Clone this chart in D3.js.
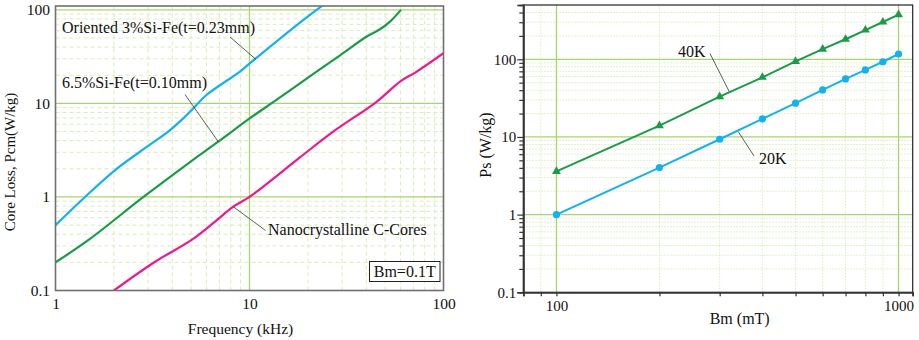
<!DOCTYPE html>
<html>
<head>
<meta charset="utf-8">
<script src="https://cdn.jsdelivr.net/npm/d3@7"></script>
<style>
  html, body { margin: 0; padding: 0; background: #fff; }
  svg { display: block; }
  text { font-family: "Liberation Serif", "Times New Roman", serif; fill: #111; }
</style>
</head>
<body>
<svg id="chart" width="919" height="340"></svg>
<script>
// ---- Core loss vs frequency at Bm = 0.1 T ----
const orientedFreq = [1, 1.42, 2.03, 2.89, 3.81, 4.47, 5.24, 6.0, 8.93, 10.06, 18.2, 24];
const orientedLoss = [0.5, 1.0, 1.94, 3.32, 4.99, 6.66, 9.25, 12.3, 21.9, 26.9, 73, 113];

const siFe65Freq = [1, 1.48, 2.84, 4.84, 6.9, 10.06, 13.3, 19.7, 29.3, 40.2, 47, 53, 60.4];
const siFe65Loss = [0.2, 0.347, 1.0, 2.29, 3.9, 6.95, 10.4, 18.4, 32.7, 51.9, 62, 75, 100];

const nanoFreq = [2, 3.26, 5.03, 6.64, 8.25, 10, 18.2, 27, 45.2, 59.7, 72.8, 100];
const nanoLoss = [0.1, 0.203, 0.347, 0.545, 0.787, 1.0, 2.65, 4.99, 10.4, 17.1, 21.9, 34.4];

const freqTicks = [1, 10, 100];
const lossTicks = [0.1, 1, 10, 100];

// ---- Specific loss vs flux density at 20 K and 40 K ----
const bmValues = [100, 200, 300, 400, 500, 600, 700, 800, 900, 1000];
const ps40K = [3.6, 14.0, 33, 58.6, 94, 135, 181, 238, 302, 375];
const ps20K = [1.0, 4.03, 9.34, 17.1, 27.2, 40.3, 55.8, 73, 93, 117];

const bmTicks = [100, 1000];
const psTicks = [0.1, 1, 10, 100];

const svg = d3.select("#chart");

const BLUE = "#14b1ec", GREEN = "#1b9a48", PINK = "#ec1a8c";
const GRID_MAJOR = "#a9d571", GRID_MINOR = "#d9ecbd";

function minorValues(lo, hi) {
  const out = [];
  for (let p = Math.floor(Math.log10(lo)); p <= Math.ceil(Math.log10(hi)); p++) {
    for (let m = 2; m <= 9; m++) {
      const v = m * Math.pow(10, p);
      if (v > lo * 1.0001 && v < hi * 0.9999) out.push(v);
    }
  }
  return out;
}

/* ================= Left panel ================= */
const xL = d3.scaleLog().domain([1, 100]).range([55.5, 443.5]);
const yL = d3.scaleLog().domain([0.1, 110]).range([290.5, 6]);
const left = svg.append("g");

left.append("clipPath").attr("id", "clipL").append("rect")
  .attr("x", xL.range()[0]).attr("y", yL.range()[1])
  .attr("width", xL.range()[1] - xL.range()[0])
  .attr("height", yL.range()[0] - yL.range()[1]);

const gridL = left.append("g");
gridL.selectAll(".vmin").data(minorValues(1, 100)).join("line")
  .attr("x1", d => xL(d)).attr("x2", d => xL(d))
  .attr("y1", yL.range()[0]).attr("y2", yL.range()[1])
  .attr("stroke", GRID_MINOR).attr("stroke-width", 1).attr("stroke-dasharray", "4,3");
gridL.selectAll(".hmin").data(minorValues(0.1, 110)).join("line")
  .attr("y1", d => yL(d)).attr("y2", d => yL(d))
  .attr("x1", xL.range()[0]).attr("x2", xL.range()[1])
  .attr("stroke", GRID_MINOR).attr("stroke-width", 1).attr("stroke-dasharray", "4,3");
gridL.selectAll(".vmaj").data([10]).join("line")
  .attr("x1", d => xL(d)).attr("x2", d => xL(d))
  .attr("y1", yL.range()[0]).attr("y2", yL.range()[1])
  .attr("stroke", GRID_MAJOR).attr("stroke-width", 1.3);
gridL.selectAll(".hmaj").data([1, 10, 100]).join("line")
  .attr("y1", d => yL(d)).attr("y2", d => yL(d))
  .attr("x1", xL.range()[0]).attr("x2", xL.range()[1])
  .attr("stroke", GRID_MAJOR).attr("stroke-width", 1.3);

const lineL = d3.line().x(d => xL(d[0])).y(d => yL(d[1])).curve(d3.curveCatmullRom.alpha(0.5));
const seriesL = [
  { f: orientedFreq, p: orientedLoss, c: BLUE },
  { f: siFe65Freq, p: siFe65Loss, c: GREEN },
  { f: nanoFreq, p: nanoLoss, c: PINK }
];
left.append("g").attr("clip-path", "url(#clipL)")
  .selectAll("path").data(seriesL).join("path")
  .attr("d", s => lineL(s.f.map((f, i) => [f, s.p[i]])))
  .attr("fill", "none").attr("stroke", s => s.c).attr("stroke-width", 2.2)
  .attr("stroke-linejoin", "round");

// frame
const FRAME_L = "#707070";
left.append("rect")
  .attr("x", xL.range()[0]).attr("y", yL.range()[1])
  .attr("width", xL.range()[1] - xL.range()[0])
  .attr("height", yL.range()[0] - yL.range()[1])
  .attr("fill", "none").attr("stroke", FRAME_L).attr("stroke-width", 1.6);

const axL = left.append("g").attr("transform", `translate(${xL.range()[0]},0)`)
  .call(d3.axisLeft(yL).tickValues(lossTicks).tickFormat(d => String(d)).tickSize(0).tickPadding(5.5));
const axB = left.append("g").attr("transform", `translate(0,${yL.range()[0]})`)
  .call(d3.axisBottom(xL).tickValues(freqTicks).tickFormat(d => String(d)).tickSize(0).tickPadding(7));
[axL, axB].forEach(a => {
  a.select(".domain").remove();
  a.selectAll("text").style("font-size", "15.5px").style("font-family", '"Liberation Serif", serif').attr("fill", "#111");
});

left.append("text").attr("x", 240.5).attr("y", 334)
  .attr("text-anchor", "middle").style("font-size", "15.5px").text("Frequency (kHz)");
left.append("text").attr("transform", "translate(15,162) rotate(-90)")
  .attr("text-anchor", "middle").style("font-size", "15px").text("Core Loss, Pcm(W/kg)");

// curve labels with leader lines
const LEAD = "#333";
function leader(g, x1, y1, x2, y2) {
  g.append("line").attr("x1", x1).attr("y1", y1).attr("x2", x2).attr("y2", y2)
    .attr("stroke", LEAD).attr("stroke-width", 0.8);
}
left.append("text").attr("x", 62).attr("y", 33).style("font-size", "16px").text("Oriented 3%Si-Fe(t=0.23mm)");
leader(left, 230, 37, xL(10.8), yL(29.5));
left.append("text").attr("x", 62).attr("y", 88).style("font-size", "16px").text("6.5%Si-Fe(t=0.10mm)");
leader(left, 185, 94.5, xL(6.9), yL(3.9));
left.append("text").attr("x", 268).attr("y", 235).style("font-size", "16px").text("Nanocrystalline C-Cores");
leader(left, xL(8.25), yL(0.787), 265.5, 230.5);

left.append("rect").attr("x", 369.5).attr("y", 261.5).attr("width", 70.5).attr("height", 20)
  .attr("fill", "#fff").attr("stroke", "#222").attr("stroke-width", 1);
left.append("text").attr("x", 404.7).attr("y", 277).attr("text-anchor", "middle")
  .style("font-size", "16px").text("Bm=0.1T");

/* ================= Right panel ================= */
const xR = d3.scaleLog().domain([80, 1100]).range([523.3, 912.7]);
const yR = d3.scaleLog().domain([0.1, 500]).range([292.3, 5]);
const right = svg.append("g");

const gridR = right.append("g");
gridR.selectAll(".vmin").data(minorValues(80, 1100).filter(v => v !== 100 && v !== 1000)).join("line")
  .attr("x1", d => xR(d)).attr("x2", d => xR(d))
  .attr("y1", yR.range()[0]).attr("y2", yR.range()[1])
  .attr("stroke", GRID_MINOR).attr("stroke-width", 1).attr("stroke-dasharray", "1.5,1.5");
gridR.selectAll(".hmin").data(minorValues(0.1, 500)).join("line")
  .attr("y1", d => yR(d)).attr("y2", d => yR(d))
  .attr("x1", xR.range()[0]).attr("x2", xR.range()[1])
  .attr("stroke", GRID_MINOR).attr("stroke-width", 1).attr("stroke-dasharray", "1.5,1.5");
gridR.selectAll(".vmaj").data(bmTicks).join("line")
  .attr("x1", d => xR(d)).attr("x2", d => xR(d))
  .attr("y1", yR.range()[0]).attr("y2", yR.range()[1])
  .attr("stroke", GRID_MAJOR).attr("stroke-width", 1.3);
gridR.selectAll(".hmaj").data([1, 10, 100]).join("line")
  .attr("y1", d => yR(d)).attr("y2", d => yR(d))
  .attr("x1", xR.range()[0]).attr("x2", xR.range()[1])
  .attr("stroke", GRID_MAJOR).attr("stroke-width", 1.3);

const lineR = d3.line().x(d => xR(d[0])).y(d => yR(d[1]));
const seriesR = [
  { v: ps40K, c: GREEN, shape: "tri" },
  { v: ps20K, c: BLUE, shape: "dot" }
];
seriesR.forEach(s => {
  const pts = bmValues.map((b, i) => [b, s.v[i]]);
  right.append("path").attr("d", lineR(pts))
    .attr("fill", "none").attr("stroke", s.c).attr("stroke-width", 2);
  if (s.shape === "dot") {
    right.append("g").selectAll("circle").data(pts).join("circle")
      .attr("cx", d => xR(d[0])).attr("cy", d => yR(d[1])).attr("r", 3.6).attr("fill", s.c);
  } else {
    right.append("g").selectAll("path").data(pts).join("path")
      .attr("d", d3.symbol().type(d3.symbolTriangle).size(34))
      .attr("transform", d => `translate(${xR(d[0])},${yR(d[1])})`).attr("fill", s.c);
  }
});

// frame and axes
right.append("rect")
  .attr("x", xR.range()[0]).attr("y", yR.range()[1])
  .attr("width", xR.range()[1] - xR.range()[0])
  .attr("height", yR.range()[0] - yR.range()[1])
  .attr("fill", "none").attr("stroke", "#222").attr("stroke-width", 1.2);

const AX_R = "#333";
const ayMinor = right.append("g").attr("transform", `translate(${xR.range()[0]},0)`)
  .call(d3.axisLeft(yR).tickValues(minorValues(0.1, 500)).tickFormat("").tickSize(4));
const ayMajor = right.append("g").attr("transform", `translate(${xR.range()[0]},0)`)
  .call(d3.axisLeft(yR).tickValues(psTicks).tickFormat(d => String(d)).tickSize(6).tickPadding(1));
const axMinor = right.append("g").attr("transform", `translate(0,${yR.range()[0]})`)
  .call(d3.axisBottom(xR).tickValues(minorValues(80, 1100)).tickFormat("").tickSize(4));
const axMajor = right.append("g").attr("transform", `translate(0,${yR.range()[0]})`)
  .call(d3.axisBottom(xR).tickValues(bmTicks).tickFormat(d => String(d)).tickSize(4).tickPadding(4));
[ayMinor, ayMajor, axMinor, axMajor].forEach(a => {
  a.select(".domain").attr("stroke", AX_R).attr("stroke-width", 1.6);
  a.selectAll(".tick line").attr("stroke", AX_R).attr("stroke-width", 1.2);
  a.selectAll("text").style("font-size", "15px").style("font-family", '"Liberation Serif", serif').attr("fill", "#111");
});

right.append("text").attr("x", 739.7).attr("y", 324)
  .attr("text-anchor", "middle").style("font-size", "16px").text("Bm (mT)");
right.append("text").attr("transform", "translate(491,145) rotate(-90)")
  .attr("text-anchor", "middle").style("font-size", "16px").text("Ps (W/kg)");

right.append("text").attr("x", 678).attr("y", 57).style("font-size", "16px").text("40K");
leader(right, 710, 53.5, xR(320), yR(38.3));
right.append("text").attr("x", 759).attr("y", 164).style("font-size", "16px").text("20K");
leader(right, xR(340), yR(11.7), 754, 156);
</script>
</body>
</html>
